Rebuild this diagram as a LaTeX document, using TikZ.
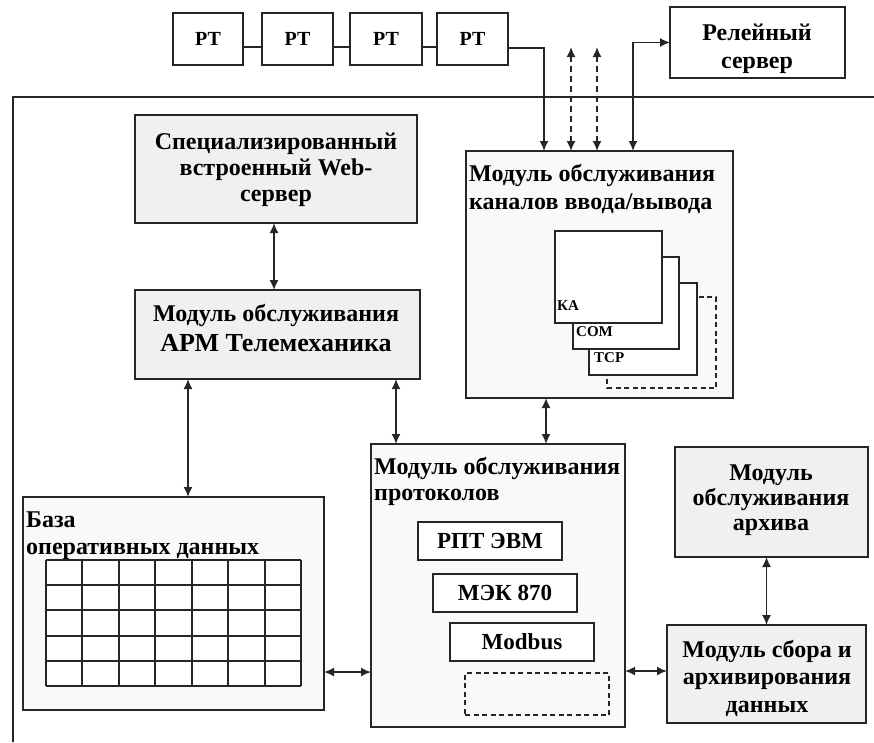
\documentclass[tikz,border=0pt]{standalone}
\usepackage{fontspec}
\setmainfont{Liberation Serif}
\usetikzlibrary{arrows.meta}
\begin{document}
\begin{tikzpicture}[x=1pt,y=-1pt,
  box/.style={draw=black!85, line width=1.9pt, inner sep=0pt, outer sep=0pt, anchor=north west},
  gbox/.style={box, fill=gray!12},
  lbox/.style={box, fill=gray!5},
  wbox/.style={box, fill=white},
  dbox/.style={box, dash pattern=on 5pt off 3.5pt},
  ttl/.style={font=\fontsize{24}{27}\selectfont\bfseries, inner sep=0pt, align=center},
  ttll/.style={font=\fontsize{24}{27}\selectfont\bfseries, inner sep=0pt, align=left, anchor=north west},
  inner/.style={wbox, font=\fontsize{23}{26}\selectfont\bfseries, minimum width=144pt, minimum height=38pt},
  small/.style={font=\fontsize{15}{17}\selectfont\bfseries, inner sep=0pt, anchor=west},
  arr/.style={{Latex[length=10pt,width=9pt]}-{Latex[length=10pt,width=9pt]}, line width=1.6pt, draw=black!85},
  one/.style={-{Latex[length=10pt,width=9pt]}, line width=1.6pt, draw=black!85},
  ln/.style={line width=1.6pt, draw=black!85}
]
\useasboundingbox (0,0) rectangle (874,742);

% outer frame
\draw[ln] (874,97) -- (13,97) -- (13,742);

% RT boxes
\node[box, minimum width=70pt, minimum height=52pt, font=\fontsize{20}{22}\selectfont\bfseries] (rt1) at (173,13) {РТ};
\node[box, minimum width=71pt, minimum height=52pt, font=\fontsize{20}{22}\selectfont\bfseries] (rt2) at (262,13) {РТ};
\node[box, minimum width=72pt, minimum height=52pt, font=\fontsize{20}{22}\selectfont\bfseries] (rt3) at (350,13) {РТ};
\node[box, minimum width=71pt, minimum height=52pt, font=\fontsize{20}{22}\selectfont\bfseries] (rt4) at (437,13) {РТ};
\draw[ln] ([yshift=-8pt]rt1.east) -- ([yshift=-8pt]rt2.west);
\draw[ln] ([yshift=-8pt]rt2.east) -- ([yshift=-8pt]rt3.west);
\draw[ln] ([yshift=-8pt]rt3.east) -- ([yshift=-8pt]rt4.west);

% relay server
\node[box, minimum width=175pt, minimum height=71pt] (relay) at (670,7) {};
\node[ttl, font=\fontsize{24}{28}\selectfont\bfseries] (trelay) at (757,49) {Релейный\\сервер};

% web server
\node[gbox, minimum width=282pt, minimum height=108pt] (web) at (135,115) {};
\node[ttl, font=\fontsize{24}{26}\selectfont\bfseries] (tweb) at (276,170) {Специализированный\\встроенный Web-\\сервер};

% APM
\node[gbox, minimum width=285pt, minimum height=89pt] (apm) at (135,290) {};
\node[ttl, font=\fontsize{24}{30}\selectfont\bfseries] (tapm) at (276,328) {Модуль обслуживания\\{\fontsize{26}{30}\selectfont АРМ Телемеханика}};

% IO module
\node[lbox, minimum width=267pt, minimum height=247pt] (io) at (466,151) {};
\node[ttll, font=\fontsize{24}{28}\selectfont\bfseries] (tio) at (469,164) {Модуль обслуживания\\каналов ввода/вывода};
\node[dbox, minimum width=109pt, minimum height=91pt] (iod) at (607,297) {};
\node[wbox, minimum width=108pt, minimum height=92pt] (tcp) at (589,283) {};
\node[wbox, minimum width=106pt, minimum height=92pt] (com) at (573,257) {};
\node[wbox, minimum width=107pt, minimum height=92pt] (ka) at (555,231) {};
\node[small] (tka) at (557,306) {КА};
\node[small] (tcom) at (576,332) {COM};
\node[small] (ttcp) at (594,358) {TCP};

% protocols module
\node[lbox, minimum width=254pt, minimum height=283pt] (pr) at (371,444) {};
\node[ttll, font=\fontsize{24}{26}\selectfont\bfseries] (tpr) at (374,457) {Модуль обслуживания\\протоколов};
\node[inner] (rpt) at (418,522) {РПТ ЭВМ};
\node[inner] (mek) at (433,574) {МЭК 870};
\node[inner] (mod) at (450,623) {Modbus};
\node[dbox, minimum width=144pt, minimum height=42pt] (prd) at (465,673) {};

% database
\node[lbox, minimum width=301pt, minimum height=213pt] (db) at (23,497) {};
\node[ttll, font=\fontsize{24}{27}\selectfont\bfseries] (tdb) at (26,512) {База\\оперативных данных};
\fill[white] (46,560) rectangle (301,686);
\foreach \x in {46,82,119,155,192,228,265,301} \draw[line width=1.6pt, draw=black!85] (\x,560) -- (\x,686);
\foreach \y in {560,585,610,636,661,686} \draw[line width=1.6pt, draw=black!85] (46,\y) -- (301,\y);

% archive
\node[gbox, minimum width=193pt, minimum height=110pt] (ar) at (675,447) {};
\node[ttl, font=\fontsize{24}{25}\selectfont\bfseries] (tar) at (771,500) {Модуль\\обслуживания\\архива};
\node[gbox, minimum width=199pt, minimum height=98pt] (co) at (667,625) {};
\node[ttl, font=\fontsize{24}{27.5}\selectfont\bfseries] (tco) at (767,678) {Модуль сбора и\\архивирования\\данных};

% connectors at the top
\coordinate (ioA) at ([xshift=78pt]io.north west);
\coordinate (ioB) at ([xshift=105pt]io.north west);
\coordinate (ioC) at ([xshift=131pt]io.north west);
\coordinate (ioD) at ([xshift=167pt]io.north west);
\coordinate (dB) at ([yshift=104pt]ioB);
\coordinate (dC) at ([yshift=104pt]ioC);
\draw[one] ([yshift=-9pt]rt4.east) -| (ioA);
\draw[arr, dash pattern=on 6pt off 4pt] (ioB) -- (dB);
\draw[arr, dash pattern=on 6pt off 4pt] (ioC) -- (dC);
\draw[arr] (ioD) |- (relay.west);

% internal connectors
\draw[arr] ([xshift=139pt]web.south west) -- ([xshift=139pt]apm.north west);
\coordinate (apmL) at ([xshift=53pt]apm.south west);
\coordinate (apmR) at ([xshift=261pt]apm.south west);
\coordinate (ioS) at ([xshift=80pt]io.south west);
\coordinate (dbR) at ([yshift=-68.5pt]db.east);
\coordinate (prR) at ([yshift=-85.5pt]pr.east);
\draw[arr] (apmL) -- (apmL |- db.north);
\draw[arr] (apmR) -- (apmR |- pr.north);
\draw[arr] (ioS) -- (ioS |- pr.north);
\draw[arr] (dbR) -- (dbR -| pr.west);
\draw[arr] (prR) -- (prR -| co.west);
\draw[arr] (co.north |- ar.south) -- (co.north);
\end{tikzpicture}
\end{document}
